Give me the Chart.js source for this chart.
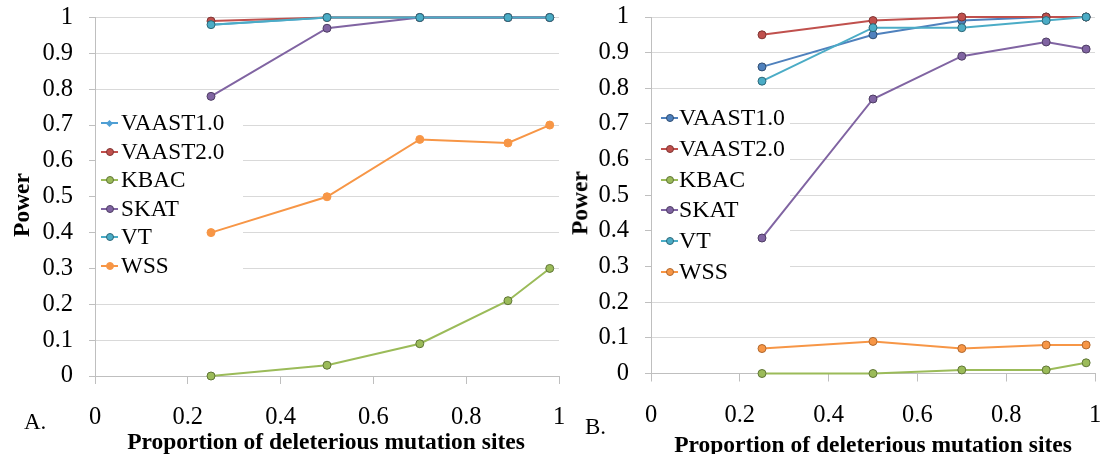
<!DOCTYPE html>
<html>
<head>
<meta charset="utf-8">
<title>Power by proportion of deleterious sites</title>
<script src="https://cdn.jsdelivr.net/npm/chart.js@4.4.1/dist/chart.umd.min.js"></script>
<style>
  body { margin: 0; background: #fff; }
  #wrap { position: relative; width: 1104px; height: 454px; overflow: hidden;
          font-family: "Liberation Serif", "Times New Roman", serif; color: #000; }
  canvas { position: absolute; top: -14px; }
  .txt { position: absolute; white-space: nowrap; line-height: 1; }
  .ytitle { font-weight: bold; font-size: 23.5px; transform: translate(-50%, -50%) rotate(-90deg); }
  .xtitle { font-weight: bold; font-size: 23.5px; transform: translate(-50%, -50%); }
  .tag { font-size: 23px; transform: translateY(-50%); }
  .legend { position: absolute; }
  .legend .ln { position: absolute; height: 2px; }
  .legend .mk { position: absolute; box-sizing: border-box; }
  .legend .lb { position: absolute; white-space: nowrap; line-height: 1; transform: translateY(-50%); }
</style>
</head>
<body>
<div id="wrap">
  <canvas id="chartA" width="585" height="468" style="left:0"></canvas>
  <canvas id="chartB" width="561" height="468" style="left:560px"></canvas>

  <div class="txt ytitle" style="left:22px; top:205px">Power</div>
  <div class="txt ytitle" style="left:580px; top:203px">Power</div>
  <div class="txt xtitle" style="left:326px; top:442px">Proportion of deleterious mutation sites</div>
  <div class="txt xtitle" style="left:873px; top:445px">Proportion of deleterious mutation sites</div>
  <div class="txt tag" style="left:24px; top:421px">A.</div>
  <div class="txt tag" style="left:585px; top:426px">B.</div>

  <div id="legendA" class="legend" style="left:95px; top:105px; width:148px; height:180px"></div>
  <div id="legendB" class="legend" style="left:654px; top:100px; width:136px; height:190px"></div>
</div>

<script>
// proportion of deleterious mutation sites
const sites = [0.25, 0.5, 0.7, 0.89, 0.98];
const methods = ["VAAST1.0", "VAAST2.0", "KBAC", "SKAT", "VT", "WSS"];

// power, panel A
const vaast1A = [0.98, 1, 1, 1, 1];
const vaast2A = [0.99, 1, 1, 1, 1];
const kbacA   = [0, 0.03, 0.09, 0.21, 0.30];
const skatA   = [0.78, 0.97, 1, 1, 1];
const vtA     = [0.98, 1, 1, 1, 1];
const wssA    = [0.40, 0.50, 0.66, 0.65, 0.70];

// power, panel B
const vaast1B = [0.86, 0.95, 0.99, 1, 1];
const vaast2B = [0.95, 0.99, 1, 1, 1];
const kbacB   = [0, 0, 0.01, 0.01, 0.03];
const skatB   = [0.38, 0.77, 0.89, 0.93, 0.91];
const vtB     = [0.82, 0.97, 0.97, 0.99, 1];
const wssB    = [0.07, 0.09, 0.07, 0.08, 0.08];

const xTicksStep = 0.2;
const yTicksStep = 0.1;

const FONT = "'Liberation Serif', 'Times New Roman', serif";

// line colour, marker edge, marker shape for each method
const styleA = [
    { color: "#4f9fd4", edge: "#4f9fd4", shape: "rectRot", radius: 3 },
    { color: "#c0504d", edge: "#7f3533", shape: "circle", radius: 4 },
    { color: "#9bbb59", edge: "#5f7536", shape: "circle", radius: 4 },
    { color: "#8064a2", edge: "#4e3d63", shape: "circle", radius: 4 },
    { color: "#4bacc6", edge: "#2d6878", shape: "circle", radius: 4 },
    { color: "#f79646", edge: "#f79646", shape: "circle", radius: 4 }
];
const styleB = [
    { color: "#4f81bd", edge: "#2f4d71", shape: "circle", radius: 4 },
    { color: "#c0504d", edge: "#7f3533", shape: "circle", radius: 4 },
    { color: "#9bbb59", edge: "#5f7536", shape: "circle", radius: 4 },
    { color: "#8064a2", edge: "#4e3d63", shape: "circle", radius: 4 },
    { color: "#4bacc6", edge: "#2d6878", shape: "circle", radius: 4 },
    { color: "#f79646", edge: "#b0682e", shape: "circle", radius: 4 }
];

// white patch under the legend: hides the gridlines but not the lines
const legendBackdrop = {
    id: "legendBackdrop",
    beforeDatasetsDraw(chart, args, opts) {
        const c = chart.ctx;
        c.save();
        c.fillStyle = "#fff";
        c.fillRect(opts.x, opts.y, opts.w, opts.h);
        c.restore();
    }
};

function buildDatasets(seriesList, styles) {
    return seriesList.map((vals, i) => ({
        label: methods[i],
        data: sites.map((x, j) => ({ x: x, y: vals[j] })),
        borderColor: styles[i].color,
        backgroundColor: styles[i].color,
        pointBackgroundColor: styles[i].color,
        pointBorderColor: styles[i].edge,
        pointBorderWidth: 1,
        pointStyle: styles[i].shape,
        pointRadius: styles[i].radius,
        borderWidth: 2,
        tension: 0,
        clip: false,
        order: seriesList.length - i   // later series end up on top
    }));
}

function tickText(v) {
    return String(Math.round(v * 10) / 10);
}

// canvases sit 14px above the page top, so the layout padding can
// swallow the extra room Chart.js reserves for tick labels
function drawPanel(id, seriesList, styles, geo) {
    const ctx = document.getElementById(id).getContext("2d");
    const tickFont = { family: FONT, size: 24.5 };

    new Chart(ctx, {
        type: "line",
        data: { datasets: buildDatasets(seriesList, styles) },
        plugins: [legendBackdrop],
        options: {
            responsive: false,
            animation: false,
            devicePixelRatio: 1,
            layout: { padding: { top: geo.top, right: 26, left: 0, bottom: 0 } },
            plugins: {
                legend: { display: false },
                tooltip: { enabled: false },
                legendBackdrop: geo.backdrop
            },
            scales: {
                x: {
                    type: "linear",
                    min: 0,
                    max: 1,
                    ticks: { stepSize: xTicksStep, padding: 19, color: "#000", font: tickFont, maxRotation: 0, callback: tickText },
                    grid: { drawOnChartArea: false, drawTicks: true, tickLength: 8, color: "#bfbfbf", tickColor: "#bfbfbf" },
                    border: { display: true, color: "#bfbfbf", width: 1 },
                    afterFit: function(scale) { scale.height = geo.xHeight; }
                },
                y: {
                    min: 0,
                    max: 1,
                    ticks: { stepSize: yTicksStep, padding: 16, color: "#000", font: tickFont, callback: tickText },
                    grid: { color: "#d9d9d9", drawTicks: true, tickLength: 6, tickColor: "#bfbfbf" },
                    border: { display: true, color: "#bfbfbf", width: 1 },
                    afterFit: function(scale) { scale.width = geo.yWidth; }
                }
            }
        }
    });
}

// legend entries, laid over the white patch
function drawLegend(id, styles, geo) {
    const box = document.getElementById(id);
    methods.forEach((name, i) => {
        const cy = geo.y0 + geo.dy * i;
        const st = styles[i];

        const ln = document.createElement("div");
        ln.className = "ln";
        ln.style.left = geo.lineX + "px";
        ln.style.top = (cy - 1) + "px";
        ln.style.width = geo.lineW + "px";
        ln.style.background = st.color;
        box.appendChild(ln);

        const mk = document.createElement("div");
        mk.className = "mk";
        const size = st.shape === "rectRot" ? 5 : 8;
        mk.style.width = size + "px";
        mk.style.height = size + "px";
        mk.style.left = (geo.lineX + geo.lineW / 2 - size / 2) + "px";
        mk.style.top = (cy - size / 2) + "px";
        mk.style.background = st.color;
        if (st.shape === "rectRot") {
            mk.style.transform = "rotate(45deg)";
        } else {
            mk.style.borderRadius = "50%";
            mk.style.border = "1px solid " + st.edge;
        }
        box.appendChild(mk);

        const lb = document.createElement("div");
        lb.className = "lb";
        lb.style.left = geo.textX + "px";
        lb.style.top = cy + "px";
        lb.style.fontSize = geo.fontSize + "px";
        lb.textContent = name;
        box.appendChild(lb);
    });
}

drawPanel("chartA", [vaast1A, vaast2A, kbacA, skatA, vtA, wssA], styleA,
    { top: 31.5, yWidth: 95, xHeight: 78,
      backdrop: { x: 96, y: 119, w: 147, h: 180 } });
drawPanel("chartB", [vaast1B, vaast2B, kbacB, skatB, vtB, wssB], styleB,
    { top: 31, yWidth: 91, xHeight: 80.5,
      backdrop: { x: 92, y: 114, w: 138, h: 190 } });

// positions relative to each legend box
drawLegend("legendA", styleA, { y0: 18, dy: 28.6, lineX: 6, lineW: 17, textX: 26, fontSize: 23.2 });
drawLegend("legendB", styleB, { y0: 18, dy: 30.8, lineX: 7, lineW: 17, textX: 25, fontSize: 23.8 });
</script>
</body>
</html>
